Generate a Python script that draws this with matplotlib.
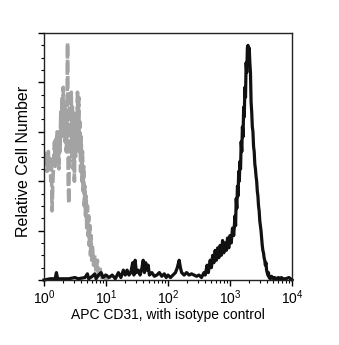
import matplotlib
matplotlib.use("Agg")
import matplotlib.pyplot as plt
from matplotlib.ticker import LogLocator, MultipleLocator, NullFormatter, LogFormatterMathtext
import numpy as np

plt.rcParams['font.family'] = ['Liberation Sans', 'DejaVu Sans']
plt.rcParams['mathtext.fontset'] = 'custom'
plt.rcParams['mathtext.rm'] = 'Liberation Sans'
plt.rcParams['mathtext.default'] = 'regular'

# Isotype control (grey dashed): log10 intensity, relative count
iso_log = [0.00, 0.02, 0.04, 0.05, 0.07, 0.08, 0.10, 0.11, 0.12, 0.13, 0.14, 0.15, 0.16, 0.17,
           0.18, 0.19, 0.20, 0.21, 0.22, 0.23, 0.24, 0.25, 0.26, 0.27, 0.28, 0.29, 0.30, 0.31,
           0.32, 0.33, 0.34, 0.35, 0.36, 0.37, 0.38, 0.385, 0.39, 0.40, 0.41, 0.42, 0.43, 0.44,
           0.45, 0.46, 0.47, 0.48, 0.49, 0.50, 0.51, 0.52, 0.53, 0.54, 0.55, 0.56, 0.57, 0.58,
           0.59, 0.60, 0.61, 0.62, 0.63, 0.64, 0.65, 0.66, 0.67, 0.68, 0.69, 0.70, 0.71, 0.72,
           0.73, 0.74, 0.75, 0.76, 0.77, 0.78, 0.80, 0.82, 0.84, 0.86, 0.88, 0.90, 0.93, 0.96,
           1.00, 1.05]
iso_cnt = [52, 47, 50, 44, 52, 45, 49, 40, 50, 28, 38, 44, 52, 56,
           46, 58, 52, 60, 49, 55, 45, 60, 52, 68, 58, 74, 62, 78,
           60, 70, 56, 66, 52, 62, 96, 70, 40, 31, 60, 74, 54, 76,
           50, 70, 45, 62, 40, 60, 50, 68, 56, 76, 60, 74, 52, 64,
           44, 58, 40, 52, 36, 46, 30, 38, 26, 34, 20, 30, 18, 26,
           14, 22, 10, 18, 8, 14, 6, 10, 3, 8, 2, 5, 1, 3,
           0, 0]

# APC CD31 (black)
cd31_log = [0.00, 0.10, 0.18, 0.20, 0.22, 0.40, 0.50, 0.55, 0.66, 0.70, 0.72, 0.78, 0.82, 0.84,
            0.88, 0.92, 0.95, 1.00, 1.05, 1.10, 1.15, 1.20, 1.24, 1.28, 1.31, 1.34, 1.37, 1.40,
            1.43, 1.45, 1.47, 1.49, 1.52, 1.55, 1.58, 1.60, 1.62, 1.64, 1.66, 1.68, 1.70, 1.74,
            1.78, 1.82, 1.86, 1.90, 1.94, 1.97, 2.00, 2.04, 2.08, 2.12, 2.15, 2.18, 2.20, 2.22,
            2.26, 2.30, 2.34, 2.38, 2.42, 2.46, 2.50, 2.54, 2.58, 2.60, 2.63, 2.65, 2.68, 2.70,
            2.72, 2.74, 2.76, 2.78, 2.80, 2.82, 2.84, 2.86, 2.88, 2.90, 2.92, 2.94, 2.96, 2.98,
            3.00, 3.02, 3.04, 3.06, 3.08, 3.09, 3.10, 3.11, 3.12, 3.13, 3.14, 3.15, 3.16, 3.17,
            3.18, 3.19, 3.20, 3.21, 3.22, 3.23, 3.24, 3.25, 3.26, 3.27, 3.28, 3.29, 3.30, 3.31,
            3.32, 3.33, 3.34, 3.35, 3.36, 3.37, 3.38, 3.39, 3.40, 3.41, 3.42, 3.43, 3.44, 3.45,
            3.46, 3.47, 3.48, 3.49, 3.50, 3.51, 3.52, 3.53, 3.54, 3.55, 3.56, 3.57, 3.58, 3.59,
            3.60, 3.61, 3.62, 3.63, 3.65, 3.67, 3.70, 3.72, 3.75, 3.78, 3.80, 3.83, 3.85, 3.90,
            3.95, 4.00]
cd31_cnt = [0, 0.5, 0.5, 3, 0.5, 0.5, 1, 0.5, 1, 2.5, 0.5, 1.5, 2.5, 0.5,
            2, 3, 1, 2, 1, 2, 0.5, 3, 1, 4, 2, 4, 2, 3,
            7, 2, 8, 3, 4, 2, 5, 8, 3, 7, 4, 6, 2, 3,
            1.5, 2, 3, 1.5, 2.5, 1, 2, 1, 2, 3, 5, 8, 5, 3,
            2, 3, 2, 2.5, 2, 1.5, 2, 1, 3, 2, 6, 3, 8, 5,
            10, 7, 12, 8, 13, 9, 14, 10, 16, 11, 15, 12, 17, 13,
            18, 15, 21, 18, 26, 22, 33, 29, 38, 34, 44, 40, 48, 45,
            56, 52, 62, 58, 70, 66, 78, 74, 88, 84, 94, 95, 92, 94,
            88, 84, 72, 68, 62, 60, 54, 52, 47, 45, 42, 40, 36, 34,
            30, 28, 24, 22, 20, 17, 14, 12, 11, 9, 8, 6, 7, 4,
            3, 2, 3, 1, 0.5, 1.5, 0.5, 1, 0.5, 1, 0.5, 1, 0.5, 0.5,
            1, 0]

fig = plt.figure(figsize=(3.39, 3.45), dpi=100)
ax = fig.add_axes([0.1298, 0.1884, 0.7316, 0.7159])

ax.plot(10 ** np.array(iso_log), iso_cnt, color='#a3a3a3', lw=2.6,
        linestyle=(0, (3.5, 1.0)), solid_joinstyle='miter')
ax.plot(10 ** np.array(cd31_log), cd31_cnt, color='#111111', lw=2.3, clip_on=False)

ax.set_xscale('log')
ax.set_xlim(1, 1e4)
ax.set_ylim(0, 100)

ax.xaxis.set_major_locator(LogLocator(base=10, numticks=10))
ax.xaxis.set_major_formatter(LogFormatterMathtext())
ax.xaxis.set_minor_locator(LogLocator(base=10, subs=np.arange(2, 10), numticks=20))
ax.xaxis.set_minor_formatter(NullFormatter())

ax.yaxis.set_major_locator(MultipleLocator(20))
ax.yaxis.set_minor_locator(MultipleLocator(5))
ax.set_yticklabels([])

ax.tick_params(axis='both', which='major', direction='out', length=4, width=1, color='black',
               labelsize=10, pad=2)
ax.tick_params(axis='both', which='minor', direction='out', length=2.5, width=0.8, color='black')

for s in ax.spines.values():
    s.set_linewidth(1.0)
    s.set_color('#222222')

ax.set_xlabel('APC CD31, with isotype control', fontsize=10, labelpad=1)
fig.text(24 / 339, 1 - 161 / 345, 'Relative Cell Number', fontsize=11.5, rotation=90,
         ha='center', va='center')

fig.savefig('out.png', dpi=100)
